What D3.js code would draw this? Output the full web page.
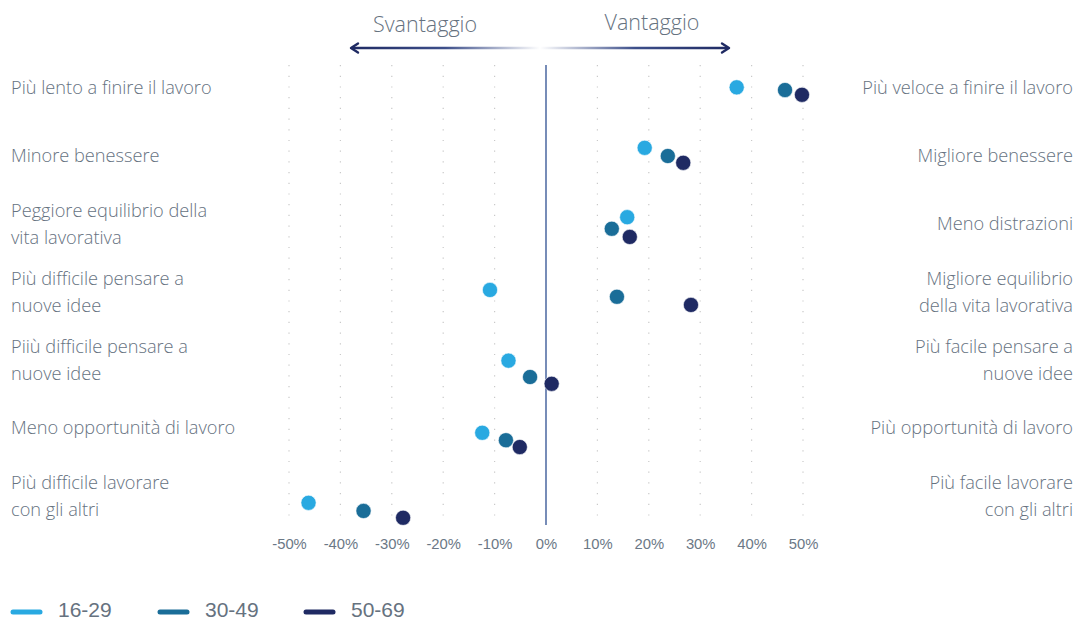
<!DOCTYPE html>
<html>
<head>
<meta charset="utf-8">
<script src="https://d3js.org/d3.v7.min.js"></script>
<style>
  body { margin: 0; background: #fff; }
  svg { display: block; }
</style>
</head>
<body>
<div id="chart"></div>
<script>
// righe, dall'alto verso il basso (k = 7 ... 1)
const rows = [7, 6, 5, 4, 3, 2, 1];
const leftLabels = [
  ["Più lento a finire il lavoro"],
  ["Minore benessere"],
  ["Peggiore equilibrio della", "vita lavorativa"],
  ["Più difficile pensare a", "nuove idee"],
  ["Piiù difficile pensare a", "nuove idee"],
  ["Meno opportunità di lavoro"],
  ["Più difficile lavorare", "con gli altri"]
];
const rightLabels = [
  ["Più veloce a finire il lavoro"],
  ["Migliore benessere"],
  ["Meno distrazioni"],
  ["Migliore equilibrio", "della vita lavorativa"],
  ["Più facile pensare a", "nuove idee"],
  ["Più opportunità di lavoro"],
  ["Più facile lavorare", "con gli altri"]
];

const seriesNames = ["16-29", "30-49", "50-69"];
const seriesColors = ["#29a9e1", "#1a6d98", "#1f2a63"];

// valori percentuali (x) per fascia d'età
const vals1629 = [37.1, 19.2, 15.8, -10.9, -7.3, -12.4, -46.2];
const vals3049 = [46.5, 23.7, 12.8, 13.8, -3.1, -7.8, -35.5];
const vals5069 = [49.8, 26.7, 16.3, 28.2, 1.1, -5.1, -27.8];

// posizione verticale (y) dei punti, come nel grafico a dispersione
const ypos1629 = [7.01, 6.12, 5.10, 4.03, 2.99, 1.93, 0.90];
const ypos3049 = [6.97, 6.00, 4.93, 3.93, 2.75, 1.82, 0.78];
const ypos5069 = [6.90, 5.90, 4.81, 3.81, 2.65, 1.72, 0.68];

const xTicks = [-50, -40, -30, -20, -10, 0, 10, 20, 30, 40, 50];

const W = 1075, H = 622;
const textColor = "#66727f";

const svg = d3.select("#chart").append("svg")
  .attr("width", W)
  .attr("height", H);

const x = d3.scaleLinear().domain([-50, 50]).range([289, 803]);
const y = d3.scaleLinear().domain([7, 1]).range([88, 496]);
const yTop = 65, yBottom = 525;

// griglia tratteggiata
svg.append("g")
  .selectAll("line")
  .data(xTicks.filter(d => d !== 0))
  .enter().append("line")
  .attr("x1", d => x(d)).attr("x2", d => x(d))
  .attr("y1", yTop).attr("y2", yBottom)
  .attr("stroke", "#c9c9c9")
  .attr("stroke-width", 1.2)
  .attr("stroke-dasharray", "1.2 9.5");

// linea dello zero
svg.append("line")
  .attr("x1", x(0)).attr("x2", x(0))
  .attr("y1", yTop).attr("y2", yBottom)
  .attr("stroke", "#5570a6")
  .attr("stroke-width", 1.6);

// asse x
const xAxis = svg.append("g")
  .attr("transform", `translate(0,${yBottom + 10})`)
  .call(d3.axisBottom(x).tickValues(xTicks).tickSize(0).tickFormat(d => d + "%"));
xAxis.select(".domain").remove();
xAxis.selectAll("text")
  .attr("fill", "#6b7886")
  .style("font-family", "'Liberation Sans', Arial, sans-serif")
  .style("font-size", "14.8px");

// etichette delle righe
const labelFont = "'Open Sans', sans-serif";
function drawLabels(labels, xPos, anchor) {
  const g = svg.append("g");
  labels.forEach((lines, i) => {
    const cy = y(rows[i]);
    const t = g.append("text")
      .attr("x", xPos)
      .attr("text-anchor", anchor)
      .attr("fill", textColor)
      .style("font-family", labelFont)
      .style("font-weight", 300)
      .style("font-size", "18.2px");
    const start = cy - (lines.length - 1) * 13.5;
    lines.forEach((ln, j) => {
      t.append("tspan")
        .attr("x", xPos)
        .attr("y", start + j * 27)
        .attr("dy", "0.35em")
        .text(ln);
    });
  });
}
drawLabels(leftLabels, 11, "start");
drawLabels(rightLabels, 1073, "end");

// punti
const series = [
  { vals: vals1629, ypos: ypos1629 },
  { vals: vals3049, ypos: ypos3049 },
  { vals: vals5069, ypos: ypos5069 }
];
series.forEach((s, si) => {
  svg.append("g")
    .selectAll("circle")
    .data(s.vals)
    .enter().append("circle")
    .attr("cx", d => x(d))
    .attr("cy", (d, i) => y(s.ypos[i]))
    .attr("r", 7.6)
    .attr("fill", seriesColors[si])
    .attr("stroke", "#fff")
    .attr("stroke-width", 0.6);
});

// intestazione con freccia
const defs = svg.append("defs");
const grad = defs.append("linearGradient")
  .attr("id", "arrowGrad")
  .attr("gradientUnits", "userSpaceOnUse")
  .attr("x1", 350).attr("x2", 730).attr("y1", 0).attr("y2", 0);
grad.append("stop").attr("offset", "0%").attr("stop-color", "#1f2a63");
grad.append("stop").attr("offset", "25%").attr("stop-color", "#3d4f8a");
grad.append("stop").attr("offset", "50%").attr("stop-color", "#ffffff");
grad.append("stop").attr("offset", "75%").attr("stop-color", "#3d4f8a");
grad.append("stop").attr("offset", "100%").attr("stop-color", "#1f2a63");

const ay = 48;
svg.append("line")
  .attr("x1", 353).attr("x2", 727)
  .attr("y1", ay).attr("y2", ay)
  .attr("stroke", "url(#arrowGrad)")
  .attr("stroke-width", 2.4);
svg.append("path")
  .attr("d", `M358,${ay - 4.5} L351,${ay} L358,${ay + 4.5}`)
  .attr("fill", "none").attr("stroke", "#1f2a63")
  .attr("stroke-width", 2.4).attr("stroke-linejoin", "round").attr("stroke-linecap", "round");
svg.append("path")
  .attr("d", `M722,${ay - 4.5} L729,${ay} L722,${ay + 4.5}`)
  .attr("fill", "none").attr("stroke", "#1f2a63")
  .attr("stroke-width", 2.4).attr("stroke-linejoin", "round").attr("stroke-linecap", "round");

svg.append("text")
  .attr("x", 425).attr("y", 24).attr("dy", "0.35em")
  .attr("text-anchor", "middle")
  .attr("fill", textColor)
  .style("font-family", labelFont).style("font-weight", 300).style("font-size", "21.5px")
  .text("Svantaggio");
svg.append("text")
  .attr("x", 652).attr("y", 22).attr("dy", "0.35em")
  .attr("text-anchor", "middle")
  .attr("fill", textColor)
  .style("font-family", labelFont).style("font-weight", 300).style("font-size", "21.5px")
  .text("Vantaggio");

// legenda
const legendX = [12, 159, 305];
const legend = svg.append("g");
seriesNames.forEach((name, i) => {
  legend.append("line")
    .attr("x1", legendX[i] + 1).attr("x2", legendX[i] + 28)
    .attr("y1", 612).attr("y2", 612)
    .attr("stroke", seriesColors[i])
    .attr("stroke-width", 5)
    .attr("stroke-linecap", "round");
  legend.append("text")
    .attr("x", legendX[i] + 46).attr("y", 617)
    .attr("fill", textColor)
    .style("font-family", "'Liberation Sans', Arial, sans-serif")
    .style("font-size", "21px")
    .text(name);
});
</script>
</body>
</html>
